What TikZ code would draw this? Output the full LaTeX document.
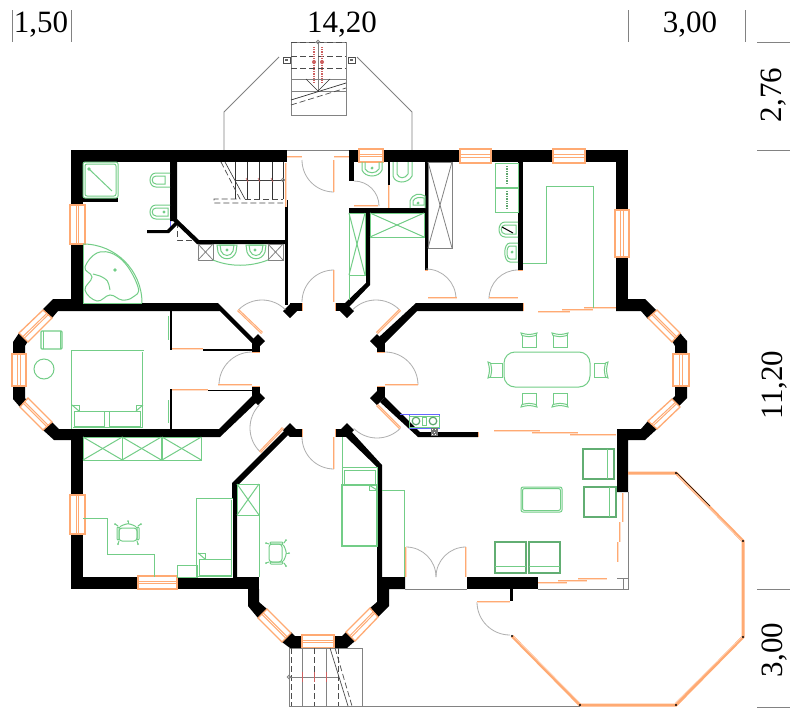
\documentclass[tikz,border=0pt]{standalone}
\usepackage{fontspec}
\setmainfont{Liberation Serif}
\usetikzlibrary{calc}
\definecolor{plangreen}{RGB}{115,205,135}
\definecolor{planorange}{RGB}{255,170,115}
\definecolor{plangray}{RGB}{130,130,130}
\definecolor{swinggray}{RGB}{175,175,175}
\definecolor{planred}{RGB}{205,95,95}
\tikzset{
wall/.style={fill=black,draw=none},
glass/.style={draw=planorange,line width=1.3pt,fill=white},
leaf/.style={draw=planorange,line width=2.6pt},
leafcore/.style={draw=white!60!planorange,line width=0.6pt},
swingline/.style={draw=swinggray,line width=0.8pt},
furn/.style={draw=plangreen,line width=1pt},
thick furn/.style={draw=plangreen!85!black,line width=1.7pt},
outline/.style={draw=plangray,line width=0.8pt},
dashline/.style={draw=black!70,line width=0.7pt,dash pattern=on 6pt off 3pt},
tick/.style={draw=plangray,line width=0.8pt},
dim/.style={font=\fontsize{31}{31}\selectfont,inner sep=0pt,anchor=base}
}
\newcommand{\winbox}[4]{
\draw [glass] #1 -- #2 -- #3 -- #4 -- cycle;
\draw [planorange,line width=1pt] ($#1!0.42!#4$) -- ($#2!0.42!#3$);
\draw [planorange,line width=1pt] ($#1!0.58!#4$) -- ($#2!0.58!#3$);
}
\newcommand{\dinechair}[3]{
\begin{scope}[shift={(#1,#2)},rotate=#3]
\draw [furn] (-7,-5) -- (-7,7) -- (7,7) -- (7,-5);
\draw [furn] (-8,-7) .. controls (0,-5) .. (8,-7) -- (7,-4.5) .. controls (0,-3) .. (-7,-4.5) -- cycle;
\end{scope}
}
\newcommand{\swivel}[3]{
\begin{scope}[shift={(#1,#2)},rotate=#3]
\draw [furn,rounded corners=3pt] (-9,-5) rectangle (9,8);
\draw [furn] (-7,-7) .. controls (0,-10) .. (7,-7);
\draw [furn] (-7,-7) -- (-9,-5);
\draw [furn] (7,-7) -- (9,-5);
\draw [furn,rounded corners=1pt] (-11,-6) rectangle (-9,7);
\draw [furn,rounded corners=1pt] (11,-6) rectangle (9,7);
\draw [furn] (-10,-7) -- (-13,-9);
\draw [furn] (10,-7) -- (13,-9);
\draw [furn] (-9,8) -- (-10,11);
\draw [furn] (9,8) -- (10,11);
\draw [furn] (0,-9) -- (0,-12);
\fill [plangreen] (-13,-9) circle (1);
\fill [plangreen] (13,-9) circle (1);
\fill [plangreen] (-10,11) circle (1);
\fill [plangreen] (10,11) circle (1);
\fill [plangreen] (0,-12) circle (1);
\end{scope}
}
\begin{document}
\begin{tikzpicture}[x=1pt,y=1pt,yscale=-1]
\useasboundingbox (0,0) rectangle (800,715);
\fill [white] (0,0) rectangle (800,715);
\draw [outline] (279,57) -- (224,112) -- (224,150);
\draw [outline] (357,57) -- (412,112) -- (412,150);
\draw [outline] (291,42) rectangle (346,115);
\draw [outline] (318,42) -- (318,91);
\draw [outline] (291,79) -- (346,79);
\draw [outline] (291,91) -- (346,91);
\draw [dashline] (291,42) -- (346,42);
\draw [dashline] (291,56) -- (346,56);
\draw [dashline] (291,68) -- (346,68);
\draw [dashline] (291,105) -- (346,88);
\draw [black!80,line width=0.7pt] (291,100) -- (346,83);
\draw [black!80,line width=0.6pt] (306,79) -- (318,91) -- (330,79);
\draw [outline] (318,42) circle (1.8);
\foreach \rx in {314,322}{
\draw [planred,line width=1.2pt,densely dotted] (\rx,47) -- (\rx,84);
\fill [planred] (\rx,62) circle (2);
}
\foreach \cx in {283,348}{
\draw [black!70,line width=0.6pt] (\cx,57) rectangle ++(7,6);
\fill [black!60] (\cx+2,59) rectangle ++(3,2);
}
\draw [outline] (287,150) -- (349,150);
\foreach \sx in {235,247,259,272,283}{
\draw [black!80,line width=0.6pt] (\sx,162) -- (\sx,199);
}
\draw [black!75,line width=0.6pt] (235,180) -- (283,180);
\draw [black!80,line width=0.6pt] (225,162) -- (245,199);
\draw [dashline] (245,199) -- (283,199);
\draw [dashline] (221,162) -- (240,199) -- (214,199) -- (214,203) -- (283,203);
\draw [dashline] (177,222) -- (177,240) -- (197,240);
\draw [outline] (283,180) circle (1.8);
\foreach \sx in {247,259,272}{
\draw [planred,line width=0.6pt] (\sx-1,178) -- (\sx+1,182);
}
\draw [blue!60,line width=0.8pt] (170,218) -- (170,230);
\fill [wall] (71,150) rectangle (287,162);
\fill [wall] (349,150) rectangle (359,162);
\fill [wall] (383,150) rectangle (460,162);
\fill [wall] (491,150) rectangle (553,162);
\fill [wall] (585,150) rectangle (628,162);
\fill [wall] (71,150) rectangle (83,205);
\fill [wall] (71,244) rectangle (83,303);
\fill [wall] (616,150) rectangle (628,210);
\fill [wall] (616,257) rectangle (628,311);
\fill [wall] (83,198) rectangle (118,202);
\fill [wall] (170,162) -- (177,162) -- (177,219) -- (199,240) -- (285,240) -- (285,244) -- (197,244) -- (173,221) -- (170,221) -- cycle;
\fill [wall] (147,230) -- (167,230) -- (176,221) -- (178,224) -- (169,233) -- (147,233) -- cycle;
\fill [wall] (285,200) rectangle (288,305);
\fill [wall] (349,150) rectangle (354,181);
\fill [wall] (388,162) rectangle (390,185);
\fill [wall] (349,208) rectangle (425,213);
\fill [wall] (425,162) rectangle (428,270);
\fill [wall] (518,162) rectangle (523,270);
\fill [wall] (366,213) -- (370,213) -- (370,285) -- (349,307) -- (345,303) -- (366,283) -- cycle;
\fill [wall] (53,299) -- (71,299) -- (71,303) -- (218,303) -- (258,343) -- (252,343) -- (220,311) -- (58,311) -- (52,318) -- (43,309) -- cycle;
\fill [wall] (43,430) -- (52,422) -- (59,429) -- (219,429) -- (255,393) -- (260,399) -- (220,437) -- (71,437) -- (71,440) -- (54,440) -- cycle;
\fill [wall] (19,333) -- (28,341) -- (25,346) -- (25,354) -- (13,354) -- (13,342) -- cycle;
\fill [wall] (13,386) -- (25,386) -- (25,398) -- (28,402) -- (20,407) -- (13,399) -- cycle;
\fill [wall] (71,437) rectangle (83,495);
\fill [wall] (71,534) rectangle (83,589);
\fill [wall] (71,577) rectangle (138,589);
\fill [wall] (177,577) rectangle (259,589);
\fill [wall] (170,311) rectangle (171.5,350);
\fill [wall] (203,349) rectangle (252,350.5);
\fill [wall] (170,389) rectangle (171.5,429);
\fill [wall] (208,389.5) rectangle (252,391);
\fill [wall] (232,577) -- (232,483) -- (287,428) -- (290,433) -- (237,486) -- (237,577) -- cycle;
\fill [wall] (344,435) -- (377,467) -- (377,577) -- (382,577) -- (382,465) -- (350,430) -- cycle;
\fill [wall] (380,402) -- (385,397) -- (420,432) -- (478,432) -- (478,437) -- (418,437) -- cycle;
\fill [wall] (416,303) -- (523,303) -- (523,311) -- (417,311) -- (384,344) -- (378,338) -- cycle;
\fill [wall] (616,299) -- (645,299) -- (657,311) -- (648,319) -- (641,311) -- (616,311) -- cycle;
\fill [wall] (672,341) -- (680,333) -- (687,341) -- (687,354) -- (675,354) -- (675,346) -- cycle;
\fill [wall] (675,386) -- (687,386) -- (687,398) -- (678,407) -- (672,399) -- (675,396) -- cycle;
\fill [wall] (648,421) -- (657,429) -- (645,440) -- (628,440) -- (628,492) -- (617,492) -- (617,429) -- (641,429) -- cycle;
\fill [wall] (248,589) -- (259,589) -- (259,602) -- (267,609) -- (258,618) -- (248,606) -- cycle;
\fill [wall] (248,577) rectangle (259,589);
\fill [wall] (282,642) -- (291,632) -- (295,636) -- (302,636) -- (302,648) -- (290,648) -- cycle;
\fill [wall] (334,636) -- (342,636) -- (346,632) -- (355,641) -- (347,648) -- (334,648) -- cycle;
\fill [wall] (370,608) -- (378,617) -- (389,606) -- (389,589) -- (405,589) -- (405,577) -- (377,577) -- (377,602) -- cycle;
\fill [wall] (467,577) rectangle (538,589);
\fill [wall] (510,589) rectangle (513,601);
\foreach \bx/\by/\ex/\ey in {290/303/302/311,335/303/348/311,252/341/260/352,377/341/385/352,252/386/260/398,377/386/385/398,290/429/302/437,335/429/348/437}{
\fill [wall] (\bx,\by) rectangle (\ex,\ey);
}
\foreach \dx/\dy in {290/311,347/311,258/341,377/341,258/398,377/398,290/430,347/430}{
\fill [wall] (\dx-7,\dy) -- (\dx,\dy-7) -- (\dx+7,\dy) -- (\dx,\dy+7) -- cycle;
}
\foreach \tx/\ty/\ux/\uy in {302/303/302/311,335/303/335/311,252/352/260/352,377/352/385/352,252/386/260/386,377/386/385/386,302/429/302/437,335/429/335/437,523/303/523/311,425/270/428/270,518/270/523/270,478/432/478/437}{
\draw [planorange,line width=1pt] (\tx,\ty) -- (\ux,\uy);
}
\winbox{(70,205)}{(70,244)}{(85,244)}{(85,205)}
\winbox{(70,495)}{(70,534)}{(85,534)}{(85,495)}
\winbox{(615,210)}{(615,257)}{(629,257)}{(629,210)}
\winbox{(359,149)}{(383,149)}{(383,162)}{(359,162)}
\winbox{(460,149)}{(491,149)}{(491,163)}{(460,163)}
\winbox{(553,149)}{(585,149)}{(585,163)}{(553,163)}
\winbox{(138,576)}{(177,576)}{(177,589)}{(138,589)}
\winbox{(12,354)}{(12,386)}{(26,386)}{(26,354)}
\winbox{(43,310)}{(19,333)}{(28,342)}{(52,318)}
\winbox{(20,407)}{(43,430)}{(52,422)}{(28,398)}
\winbox{(673,354)}{(673,386)}{(689,386)}{(689,354)}
\winbox{(657,310)}{(680,333)}{(672,342)}{(648,318)}
\winbox{(672,399)}{(648,421)}{(657,429)}{(680,407)}
\winbox{(258,618)}{(282,642)}{(291,633)}{(267,609)}
\winbox{(302,635)}{(334,635)}{(334,648)}{(302,648)}
\winbox{(346,632)}{(370,608)}{(378,617)}{(355,641)}
\foreach \ax/\ay/\as/\ae/\ar in {334/302/-90/-180/32,334/437/180/90/32,252/385/-90/-180/33,385/385/-90/0/33,262/333/-135/-45/33,376/333/-135/-45/33,283/428/135/225/33,377/405/45/135/33,334/160/180/90/32,354/206/-90/0/25,426/299/-90/0/30,518/299/-90/-180/29,406/577/-90/0/30,466/577/-90/-180/30,510/602/180/90/33}{
\draw [swingline] (\ax,\ay) ++(\as:\ar) arc (\as:\ae:\ar);
}
\foreach \lx/\ly/\mx/\my in {334/270/334/302,334/437/334/469,218/385/252/385,385/385/418/385,262/333/238/310,377/333/400/310,283/428/260/452,377/405/400/428,334/160/334/192,354/206/378/206,428/298/457/298,489/298/518/298,406/547/406/577,466/547/466/577,477/602/510/602,172/349/203/349,172/390/208/390,287/157/302/157,334/157/349/157,286/163/286/207,389/185/389/208,538/312/570/312,562/310/593/310,584/308/616/308,494/431/540/431,532/433/578/433,570/435/616/435,623/493/623/522,620/522/620/542,618/542/618/562,538/583/567/583,558/581/587/581,578/579/607/579}{
\draw [leaf] (\lx,\ly) -- (\mx,\my);
\draw [leafcore] (\lx,\ly) -- (\mx,\my);
}
\draw [outline] (405,589) -- (467,589);
\draw [outline] (538,589) -- (628,589) -- (628,492);
\draw [outline] (623,578) -- (623,589);
\draw [outline] (617,578) -- (628,578);
\draw [planorange,line width=3pt] (628,473) -- (676,473) -- (743,541) -- (743,637) -- (676,705) -- (580,705) -- (512,636);
\draw [white!50!planorange,line width=0.5pt] (678,476) -- (742,541);
\draw [white!50!planorange,line width=0.5pt] (675,703) -- (742,637);
\draw [white!50!planorange,line width=0.5pt] (580,703) -- (514,637);
\draw [black,line width=0.7pt] (677,473) -- (710,506);
\foreach \px/\py in {676/473,743/541,743/637,676/705,580/705,512/636}{
\fill [black] (\px,\py) circle (1.2);
}
\draw [outline] (289,648) rectangle (362,706);
\draw [outline] (362,706) -- (580,706);
\foreach \sx in {302,326}{
\draw [outline] (\sx,648) -- (\sx,706);
}
\foreach \sx in {291,314,338}{
\draw [dashline] (\sx,648) -- (\sx,706);
}
\draw [black!70,line width=0.7pt] (330,648) -- (348,706);
\draw [dashline] (335,648) -- (352,706);
\draw [outline] (289,677) -- (338,677);
\draw [outline] (289,677) circle (1.8);
\foreach \sx in {302,314,326}{
\draw [planred,line width=0.5pt] (\sx,672) -- (\sx,682);
}
\draw [furn,rounded corners=2pt] (83,162) rectangle (118,198);
\draw [furn,rounded corners=2pt] (85,164) rectangle (116,196);
\draw [furn] (89,169) -- (112,191);
\draw [furn] (89,169) circle (1.2);
\draw [furn] (170,173) -- (156,173) .. controls (148,173) and (148,187) .. (156,187) -- (170,187);
\draw [furn] (165,176) -- (156,176) .. controls (151,176) and (151,184) .. (156,184) -- (165,184) -- cycle;
\draw [furn] (170,205) -- (156,205) .. controls (148,205) and (148,219) .. (156,219) -- (170,219);
\draw [furn] (168,208) -- (156,208) .. controls (151,208) and (151,216) .. (156,216) -- (168,216) -- cycle;
\draw [furn] (164,212) circle (0.8);
\draw [furn] (83,244) arc (-90:0:59);
\draw [furn] (83,244) -- (83,303) -- (142,303);
\draw [furn] plot [smooth cycle,tension=0.7] coordinates {(85,267) (100,252) (122,260) (138,287) (133,297) (122,300) (110,295) (97,301) (85,290) (92,277)};
\draw [furn] (93,274) -- (100,276) .. controls (108,280) .. (110,290);
\draw [furn] (115,270) circle (1.2);
\draw [outline] (198,244) rectangle (213,260);
\draw [outline] (198,244) -- (213,260);
\draw [outline] (213,244) -- (198,260);
\draw [outline] (268,244) rectangle (283,260);
\draw [outline] (268,244) -- (283,260);
\draw [outline] (283,244) -- (268,260);
\draw [furn] (213,260) .. controls (230,267) and (250,267) .. (268,260);
\draw [furn] (217,245) -- (237,245) -- (236,252) .. controls (233,261) and (221,261) .. (218,252) -- cycle;
\draw [furn] (220,245) -- (234,245) -- (233,251) .. controls (231,257) and (223,257) .. (221,251) -- cycle;
\draw [furn] (246,245) -- (266,245) -- (265,252) .. controls (262,261) and (250,261) .. (247,252) -- cycle;
\draw [furn] (249,245) -- (263,245) -- (262,251) .. controls (260,257) and (252,257) .. (250,251) -- cycle;
\draw [furn] (227,250) circle (0.9);
\draw [furn] (255,250) circle (0.9);
\draw [furn] (362,162) -- (362,170) .. controls (365,178) and (379,178) .. (382,170) -- (382,162);
\draw [furn] (365,162) -- (365,169) .. controls (368,174) and (376,174) .. (379,169) -- (379,162);
\draw [furn] (372,168) circle (0.8);
\draw [furn] (393,162) -- (393,176) .. controls (395,184) and (408,184) .. (412,176) -- (412,162);
\draw [furn] (397,162) -- (397,174) .. controls (399,179) and (405,179) .. (408,174) -- (408,162);
\draw [furn] (410,208) -- (410,201) .. controls (413,193) and (420,193) .. (425,196) -- (425,208);
\draw [furn] (413,205) -- (413,201) .. controls (415,197) and (420,197) .. (424,198) -- (424,205) -- cycle;
\draw [furn] (418,203) circle (0.8);
\draw [furn] (349,213) rectangle (365,275);
\draw [furn] (349,213) -- (365,275);
\draw [furn] (365,213) -- (349,275);
\draw [furn] (349,275) -- (349,300);
\draw [furn] (370,213) rectangle (424,237);
\draw [furn] (370,213) -- (424,237);
\draw [furn] (424,213) -- (370,237);
\draw [outline] (428,162) rectangle (452,248);
\draw [outline] (428,162) -- (452,248);
\draw [outline] (452,162) -- (428,248);
\draw [furn] (495,163) rectangle (518,187);
\draw [furn] (495,188) rectangle (518,212);
\draw [plangreen!80!black,line width=1.4pt,densely dotted] (507,166) -- (507,184);
\draw [plangreen!80!black,line width=1.4pt,densely dotted] (507,191) -- (507,209);
\draw [furn] (518,222) -- (505,222) .. controls (497,222) and (497,237) .. (505,237) -- (518,237);
\draw [furn] (516,225) -- (505,225) .. controls (500,225) and (500,234) .. (505,234) -- (516,234) -- cycle;
\draw [black,line width=1pt] (502,227) -- (513,233);
\draw [furn] (518,243) -- (510,243) .. controls (503,243) and (503,262) .. (510,262) -- (518,262);
\draw [furn] (516,246) -- (510,246) .. controls (506,246) and (506,259) .. (510,259) -- (516,259) -- cycle;
\draw [furn] (512,252) circle (0.8);
\draw [furn] (523,263) -- (546,263) -- (546,186) -- (593,186) -- (593,308);
\draw [furn,double,double distance=0.8pt] (72,351) rectangle (143,428);
\draw [furn] (79,411) -- (136,411);
\draw [furn] (79,411) -- (79,405) -- (72,405);
\draw [furn] (136,411) -- (136,405) -- (143,405);
\draw [furn] (74,411) rectangle (104,426);
\draw [furn] (109,411) rectangle (140,426);
\draw [furn] (72,405) -- (79,411);
\draw [furn] (143,405) -- (136,411);
\draw [furn,line width=1.2pt,rounded corners=1pt] (41,331) rectangle (62,349);
\draw [furn] (43,331) -- (43,349);
\draw [furn] (60,331) -- (60,349);
\draw [furn] (44,369) circle (10);
\draw [furn] (83,437) rectangle (201,460);
\foreach \cx in {83,122,162}{
\draw [furn] (\cx,437) rectangle (\cx+39.3,460);
\draw [furn] (\cx,437) -- (\cx+39.3,460);
\draw [furn] (\cx+39.3,437) -- (\cx,460);
}
\draw [furn] (168,316) -- (168,340);
\draw [furn] (168,400) -- (168,423);
\draw [furn] (83,518) -- (107,518) -- (107,554) -- (154,554) -- (154,577);
\swivel{128}{533}{0}
\draw [furn,double,double distance=0.8pt] (197,499) rectangle (232,577);
\draw [furn] (199,559) rectangle (231,575);
\draw [furn] (198,553) -- (205,553) -- (205,559);
\draw [furn] (198,553) -- (205,559);
\draw [furn] (177,565) rectangle (197,577);
\draw [furn] (237,484) rectangle (259,515);
\draw [furn] (237,484) -- (259,515);
\draw [furn] (259,484) -- (237,515);
\draw [furn] (259,515) -- (259,577);
\swivel{277}{553}{90}
\draw [furn] (342,437) -- (342,467);
\draw [furn] (342,467) rectangle (377,485);
\draw [furn] (344,470) rectangle (375,485);
\draw [furn,line width=1.4pt] (342,485) rectangle (377,546);
\draw [furn] (369,485) -- (369,490) -- (377,490);
\draw [furn] (369,485) -- (377,490);
\draw [furn] (382,490) -- (404,490) -- (404,577);
\draw [furn,rounded corners=11pt] (504,352) rectangle (590,387);
\dinechair{529}{340}{0}
\dinechair{560}{340}{0}
\dinechair{529}{400}{180}
\dinechair{560}{400}{180}
\dinechair{495}{370}{-90}
\dinechair{601}{370}{90}
\draw [blue!60,line width=0.8pt] (409,414) rectangle (439,428);
\draw [blue!60,line width=0.6pt] (400,414) -- (409,414);
\draw [furn] (409,416) rectangle (439,427);
\draw [plangreen!80!black,line width=1.2pt] (416,421) circle (3.8);
\draw [plangreen!80!black,line width=1.2pt] (433,421) circle (3.8);
\draw [furn] (422,417) rectangle (426,425);
\fill [black!55] (431,428) rectangle (438,436);
\foreach \qx/\qy in {432/429,435/429,433.5/431.5,432/434,435/434}{
\fill [white] (\qx,\qy) rectangle ++(1.4,1.2);
}
\draw [thick furn] (583,449) rectangle (614,479);
\draw [furn] (607,449) -- (607,479);
\draw [thick furn] (584,487) rectangle (616,517);
\draw [furn] (609,487) -- (609,517);
\draw [furn,rounded corners=2pt] (521,487) rectangle (562,512);
\draw [furn,rounded corners=2pt] (522.5,488.5) rectangle (560.5,510.5);
\draw [thick furn] (495,542) rectangle (526,573);
\draw [furn] (495,566) -- (526,566);
\draw [thick furn] (529,542) rectangle (560,573);
\draw [furn] (529,566) -- (560,566);
\draw [tick] (12,10) -- (12,42);
\draw [tick] (71,10) -- (71,42);
\draw [tick] (628,10) -- (628,42);
\draw [tick] (745,10) -- (745,42);
\draw [tick] (757,42) -- (790,42);
\draw [tick] (757,150) -- (790,150);
\draw [tick] (757,589) -- (790,589);
\draw [tick] (757,707) -- (790,707);
\node [dim] (widthleft) at (41,32) {1,50};
\node [dim] (widthmid) at (342,32) {14,20};
\node [dim] (widthright) at (690,32) {3,00};
\node [dim,rotate=90] (heighttop) at (781,95) {2,76};
\node [dim,rotate=90] (heightmid) at (782,385) {11,20};
\node [dim,rotate=90] (heightlow) at (782,650) {3,00};
\end{tikzpicture}
\end{document}
